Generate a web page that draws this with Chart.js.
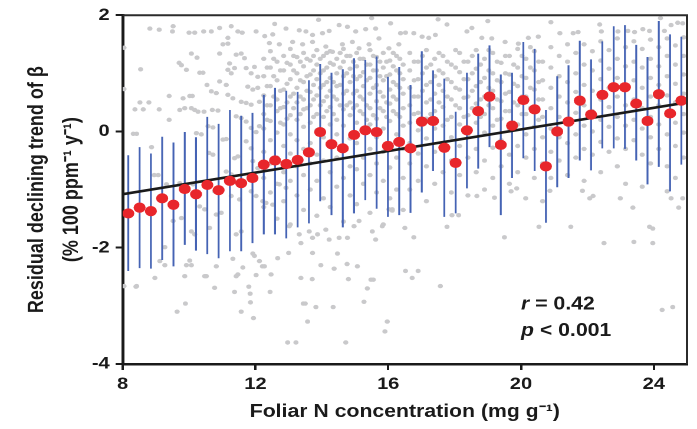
<!DOCTYPE html>
<html><head><meta charset="utf-8">
<script src="https://cdn.jsdelivr.net/npm/chart.js@4.4.1/dist/chart.umd.min.js"></script>
<style>
html,body{margin:0;padding:0;background:#fff;overflow:hidden}
#wrap{width:697px;height:429px;overflow:hidden;position:relative;background:#fff}
#c{position:absolute;left:0;top:0;transform:scaleX(1.1794);transform-origin:0 0}
</style></head><body>
<div id="wrap"><canvas id="c" width="591" height="429"></canvas></div>
<script>
// ---- data ----
const xTicks = [8, 12, 16, 20, 24];
const yTicks = [-4, -2, 0, 2];
const xTitle = 'Foliar N concentration (mg g\u207B\u00B9)';
const yTitle = ['Residual declining trend of \u03B2', '(% 100 ppm\u207B\u00B9 y\u207B\u00B9)'];
const statLines = [['r', ' = 0.42'], ['p', ' < 0.001']];
const statX = 20.0;
const statY = [-2.98, -3.43];

const binX = [8.17, 8.51, 8.85, 9.19, 9.53, 9.87, 10.21, 10.55, 10.89, 11.23, 11.57, 11.91, 12.25, 12.59, 12.93, 13.27, 13.61, 13.95, 14.29, 14.63, 14.97, 15.31, 15.65, 15.99, 16.33, 16.67, 17.01, 17.35, 17.69, 18.03, 18.37, 18.71, 19.05, 19.39, 19.73, 20.07, 20.41, 20.75, 21.09, 21.43, 21.77, 22.11, 22.45, 22.79, 23.13, 23.47, 23.81, 24.15, 24.49, 24.83];
const binMean = [-1.41, -1.31, -1.37, -1.15, -1.26, -0.99, -1.08, -0.92, -1.01, -0.85, -0.89, -0.80, -0.57, -0.50, -0.56, -0.49, -0.36, -0.01, -0.22, -0.29, -0.06, 0.02, -0.01, -0.25, -0.18, -0.29, 0.17, 0.18, -0.28, -0.54, 0.02, 0.35, 0.60, -0.23, 0.10, 0.54, 0.38, -0.60, 0.00, 0.17, 0.53, 0.29, 0.63, 0.76, 0.76, 0.48, 0.18, 0.64, 0.31, 0.53];
const binHigh = [-0.41, -0.27, -0.38, -0.09, -0.19, -0.01, -0.10, 0.25, 0.13, 0.37, 0.27, 0.32, 0.63, 0.75, 0.70, 0.68, 0.88, 1.16, 1.01, 1.07, 1.26, 1.23, 1.29, 0.94, 1.11, 0.80, 1.38, 1.05, 0.91, 0.34, 1.01, 1.34, 1.48, 0.98, 1.01, 1.54, 1.42, 0.37, 0.95, 1.14, 1.56, 1.24, 1.55, 1.81, 1.83, 1.49, 1.28, 1.90, 1.67, 1.63];
const binLow = [-2.40, -2.35, -2.36, -2.21, -2.32, -1.95, -2.05, -2.11, -2.18, -2.06, -2.06, -1.92, -1.77, -1.77, -1.84, -1.65, -1.58, -1.20, -1.44, -1.65, -1.41, -1.18, -1.33, -1.47, -1.44, -1.40, -1.05, -0.68, -1.47, -1.41, -0.98, -0.64, -0.27, -1.44, -0.80, -0.46, -0.68, -1.57, -0.96, -0.80, -0.50, -0.67, -0.29, -0.29, -0.30, -0.50, -0.91, -0.61, -1.03, -0.57];

const fitX = [8, 25];
const fitY = [-1.08, 0.50];

const grayPairs = [
[8.82,1.77],[9.10,1.75],[9.52,1.81],[9.5,1.72],[10.0,1.70],[10.17,1.70],[10.44,1.72],[10.67,1.72],[10.92,1.78],[11.17,1.61],[11.27,1.81],[11.47,1.72],[11.6,1.70],[12.02,1.72],
[8.04,1.44],[8.04,0.73],[8.54,1.07],[8.37,0.38],[8.62,0.38],[9.1,0.38],[8.52,0.5],[8.79,0.5],[8.32,-0.04],[8.42,-0.04],[8.87,-0.27],[8.95,-0.75],[9.07,-0.75],[9.4,0.61],[9.4,0.2],[9.7,1.18],[9.77,1.14],[9.82,0.57],[9.92,1.06],[10.02,0.61],[10.1,0.61],[9.72,0.37],[9.87,0.4],[10.07,1.34],[10.24,1.27],[10.32,1.01],[10.42,1.01],[10.54,0.8],[10.67,0.69],[10.82,0.66],[10.92,1.34],[11.02,1.5],[11.17,1.51],[10.07,0.4],[10.17,0.37],[10.27,0.34],[10.45,0.34],[10.7,0.37],[10.87,0.36],[10.57,0.09],[10.72,0.07],[10.22,-0.03],[10.37,-0.05],[10.6,-0.37],[10.72,-0.4],[11.02,-0.14],[11.12,-0.13],[11.37,-0.46],[11.47,-0.43],[11.22,1.17],[11.37,1.09],[11.27,1.0],[11.17,1.06],[11.42,1.32],[11.57,1.34],[11.67,1.26],[11.72,1.09],[11.87,1.0],[11.97,1.11],[12.07,0.94],[11.77,0.77],[11.92,0.72],[12.07,0.75],[11.12,0.8],[10.92,0.86],[11.17,0.63],[11.32,0.57],[11.57,0.51],[11.72,0.49],[11.87,0.46],[12.12,0.51],[11.42,0.26],[11.57,0.23],[11.72,0.17],[11.87,0.06],[12.02,-0.01],[12.12,0.09],[11.72,-0.17],[11.87,-0.29],[11.92,-0.51],[12.07,-0.63],[11.12,-0.69],[11.27,-0.74],[10.92,-0.97],[10.77,-1.03],[10.32,-1.29],[10.47,-1.34],[10.07,-1.72],[10.17,-1.77],[10.62,-1.66],[9.77,-1.49],[9.52,-1.54],[9.27,-1.99],[11.42,-1.77],[11.57,-1.72],[11.97,-2.14],[12.12,-2.23],[11.62,-2.34],[11.47,-2.46],[10.82,-2.32],[10.52,-2.49],[9.87,-2.49],[8.97,-2.52],[8.04,-2.66],[8.42,-2.66],
[8.40,-2.67],[9.12,-2.23],[9.27,-2.3],[9.64,-3.1],[9.89,-2.96],[9.92,-2.3],[10.07,-2.3],[10.02,-2.22],[10.47,-2.49],[10.77,-2.69],[11.32,-2.19],[11.37,-2.76],[11.42,-2.49],[11.57,-3.1],[11.80,-2.67],[11.84,-2.79],[11.85,-2.94],[11.92,-2.1],[11.94,-3.21],[12.02,-2.47],[12.21,-2.32],[12.27,-2.32],[12.44,-2.76],[12.47,-2.46],[12.67,-2.18],[12.97,-3.63],[13.00,-2.09],[13.22,-3.63],[13.37,-2.52],[13.44,-2.96],[13.50,-2.96],[13.57,-3.27],[13.71,-2.54],[13.72,-2.09],[13.82,-3.02],[13.97,-2.30],[14.34,-3.02],[14.37,-2.36],[14.47,-2.1],[14.72,-3.63],[14.76,-2.28],[14.80,-2.54],[15.07,-2.32],[15.27,-2.93],[15.37,-2.70],[15.48,-2.55],[15.55,-2.55],[15.90,-3.44],[15.97,-3.27],
[9.32,-0.91],[9.72,-0.89],[10.12,-0.91],[10.82,-1.43],[10.97,-1.40],[11.27,-1.11],[11.52,-1.17],[11.87,-1.03],[12.02,-1.11],[12.22,-1.2],[12.32,-1.23],[12.52,-1.26],[12.72,-0.91],[12.92,-0.97],[13.02,-1.63],[13.32,-1.77],[13.37,-1.92],[13.62,-1.72],[13.72,-1.83],[13.87,-1.77],[14.12,-1.69],[14.22,-1.86],[14.52,-1.83],[14.77,-1.83],[14.97,-1.63],[15.12,-1.54],[15.52,-1.72],[15.62,-1.86],[15.82,-1.63],[16.02,-1.34],[16.12,-1.34],
[16.5,-1.66],[16.77,-1.82],[16.12,-1.36],[16.52,-2.4],[16.9,-2.4],[16.72,-2.52],[17.57,-2.66],[17.77,-1.64],[17.92,-1.44],[18.12,-1.44],[18.67,-1.11],[19.2,-1.14],[19.5,-1.82],[19.7,-1.03],[19.87,-0.98],[20.14,-1.15],[20.54,-1.64],[20.87,-1.02],[21.5,-1.64],[21.85,-1.02],[22.07,-1.15],[22.17,-1.11],[22.5,-1.92],[22.99,-1.15],[23.37,-1.31],[23.4,-1.9],[23.87,-1.64],[23.97,-1.67],[23.97,-1.92],[24.25,-3.07],[24.57,-3.02],[24.4,-1.03],[24.52,-1.15],[24.75,-1.31],[24.87,-1.15],
[12.58,1.85],[12.92,1.77],[13.32,1.74],[13.52,1.72],[13.72,1.66],[14.02,1.69],[14.22,1.73],[14.52,1.83],[14.77,1.8],[15.02,1.72],[15.32,1.76],[15.62,1.77],[16.07,1.86],[16.37,1.69],
[12.28,1.64],[12.52,1.67],[12.42,1.52],[12.72,1.5],[13.12,1.54],[13.42,1.5],[13.72,1.54],[14.12,1.46],[14.32,1.37],[14.62,1.5],[14.92,1.54],[15.12,1.43],[15.42,1.5],[15.72,1.6],[16.02,1.43],[16.32,1.5],
[16.52,1.7],[16.77,1.69],[17.02,1.63],[17.22,1.61],[17.42,1.66],[17.77,1.84],[18.37,1.72],[18.52,1.78],[18.82,1.61],[19.12,1.6],[19.52,1.54],[19.92,1.51],[20.22,1.61],[20.52,1.63],
[22.37,1.84],[22.42,1.72],[21.72,1.71],[21.57,1.69],[21.17,1.69],[22.92,1.72],[23.22,1.73],[23.42,1.71],[23.67,1.76],[23.87,1.73],[24.32,1.73],[24.52,1.83],[24.72,1.87],[24.87,1.86],
[13.9,1.92],[15.5,1.95],[17.5,1.93],[19.0,1.9],[20.9,1.88],[24.2,1.95]
];

const grayColX = [12.25, 12.35, 12.45, 12.55, 12.65, 12.75, 12.85, 12.95, 13.05, 13.15, 13.25, 13.35, 13.45, 13.55, 13.65, 13.75, 13.85, 13.95, 14.05, 14.15, 14.25, 14.35, 14.45, 14.55, 14.65, 14.75, 14.85, 14.95, 15.05, 15.15, 15.25, 15.35, 15.45, 15.55, 15.65, 15.75, 15.85, 15.95, 16.05, 16.15, 16.25, 16.35, 16.45,
 16.65, 16.78, 16.9, 17.03, 17.15, 17.28, 17.4, 17.53, 17.65, 17.78, 17.9, 18.03, 18.15, 18.28, 18.4, 18.53, 18.65, 18.78, 18.9, 19.03, 19.15, 19.28, 19.4, 19.53, 19.65, 19.78, 19.9, 20.03, 20.15, 20.28, 20.4, 20.53, 20.65,
 20.9, 21.15, 21.4, 21.65, 21.9, 22.15, 22.4, 22.65, 22.9, 23.15, 23.4, 23.65, 23.9, 24.15, 24.4, 24.65, 24.9];
const grayColY = [
 [1.25, 0.95, 0.62, 0.3, 0.05, -0.35, -0.8, -1.3],
 [1.1, 0.78, 0.45, 0.2],
 [1.38, 1.1, 0.78, 0.45, 0.18, -0.15, -0.55, -1.05],
 [0.95, 0.6, 1.25],
 [1.2, 0.88, 0.55, 0.35, -0.02, -0.45, -0.9, -1.5],
 [1.05, 0.7, 0.4, 0.15],
 [1.3, 1.05, 0.72, 0.42, 0.12, -0.25, -0.7, -1.2],
 [1.18, 0.82, 0.5, 0.22],
 [1.42, 1.15, 0.9, 0.6, 0.28, -0.05, -0.38, -0.85, -1.6],
 [0.65, 1.05, 1.3, 0.4],
 [1.28, 1.0, 0.75, 0.5, 0.2, -0.15, -0.6, -1.1],
 [1.2, 0.88, 0.6, 0.3],
 [1.35, 1.12, 0.85, 0.55, 0.38, 0.08, -0.3, -0.75, -1.35],
 [0.95, 0.4, 1.25, 0.7],
 [1.22, 0.98, 0.68, 0.45, 0.15, -0.2, -0.55, -1.0],
 [1.3, 1.05, 0.55, 0.25, 0.8],
 [1.4, 1.15, 0.9, 0.62, 0.3, 0.02, -0.4, -0.85, -1.45],
 [0.75, 1.25, 0.45, 1.0],
 [1.3, 1.05, 0.8, 0.52, 0.25, -0.1, -0.5, -1.15],
 [0.6, 1.1, 1.35, 0.35, 0.85],
 [1.38, 1.18, 0.92, 0.7, 0.42, 0.12, -0.25, -0.7, -1.3],
 [0.85, 0.3, 1.15, 0.6],
 [1.25, 1.0, 0.78, 0.55, 0.2, -0.05, -0.45, -0.95],
 [1.1, 0.45, 0.8, 1.35],
 [1.42, 1.2, 0.95, 0.65, 0.38, 0.1, -0.3, -0.8, -1.55],
 [0.7, 1.3, 1.0, 0.45],
 [1.3, 1.08, 0.85, 0.5, 0.28, -0.12, -0.6, -1.1],
 [0.95, 0.4, 0.65, 1.2],
 [1.35, 1.12, 0.9, 0.7, 0.45, 0.15, -0.2, -0.65, -1.25],
 [0.6, 1.25, 0.95, 0.35],
 [1.25, 1.02, 0.78, 0.55, 0.3, 0.0, -0.45, -0.9],
 [0.88, 0.45, 1.15, 0.2],
 [1.4, 1.15, 0.92, 0.65, 0.4, 0.12, -0.3, -0.75, -1.4],
 [1.05, 0.28, 0.75, 1.3],
 [1.28, 1.05, 0.8, 0.52, 0.22, -0.1, -0.55, -1.05],
 [0.68, 1.2, 0.95, 0.4],
 [1.35, 1.1, 0.88, 0.6, 0.35, 0.05, -0.35, -0.85, -1.6],
 [0.95, 0.5, 1.2, 0.25],
 [1.22, 0.98, 0.72, 0.48, 0.18, -0.2, -0.62, -1.15],
 [0.6, 1.12, 0.85, 1.35, 0.35],
 [1.3, 1.05, 0.8, 0.55, 0.3, -0.05, -0.45, -1.0],
 [0.75, 0.25, 1.0, 1.25],
 [1.15, 0.9, 0.65, 0.4, 0.1, -0.3, -0.8, -1.35],
 [1.35, 1.05, 0.75, 0.45, 0.15, -0.2, -0.55, -1.0],
 [1.2, 0.88, 0.6, 0.3],
 [1.2, 0.9, 0.6, 0.32, 0.02, -0.38, -0.85],
 [1.3, 1.0, 0.7, 0.15],
 [1.4, 1.1, 0.8, 0.5, 0.22, -0.12, -0.6, -1.2],
 [1.15, 0.85, 0.55, 0.3],
 [1.25, 0.95, 0.65, 0.35, 0.05, -0.35, -0.9],
 [1.35, 1.05, 0.8, 0.5],
 [1.3, 1.0, 0.7, 0.42, 0.1, -0.25, -0.7],
 [1.2, 0.9, 0.6, 0.2],
 [1.15, 0.85, 0.55, 0.25, -0.1, -0.5, -1.05],
 [1.4, 1.1, 0.75, 0.45],
 [1.35, 1.02, 0.72, 0.4, 0.12, -0.25, -0.75],
 [1.2, 0.9, 0.58, 0.25],
 [1.2, 0.9, 0.6, 0.28, -0.05, -0.45, -1.1],
 [1.3, 1.0, 0.7, 0.4],
 [1.4, 1.08, 0.78, 0.48, 0.15, -0.3, -0.7],
 [1.15, 0.85, 0.55, 0.25],
 [1.25, 0.92, 0.6, 0.3, -0.02, -0.5, -1.0],
 [1.4, 1.05, 0.75, 0.45],
 [1.35, 1.0, 0.7, 0.4, 0.1, -0.28, -0.8],
 [1.2, 0.88, 0.55, 0.2],
 [1.18, 0.85, 0.52, 0.22, -0.15, -0.6],
 [1.3, 1.0, 0.65, 0.35],
 [1.3, 0.98, 0.68, 0.35, 0.05, -0.4, -0.9],
 [1.15, 0.82, 0.5, 0.15],
 [1.42, 1.1, 0.78, 0.45, 0.12, -0.25, -0.7],
 [1.3, 0.95, 0.6, 0.3],
 [1.25, 0.92, 0.6, 0.3, -0.05, -0.45],
 [1.45, 1.1, 0.75, 0.4],
 [1.38, 1.05, 0.72, 0.4, 0.08, -0.3, -0.8],
 [1.2, 0.85, 0.55, 0.2],
 [1.2, 0.88, 0.55, 0.25, -0.1, -0.55, -1.2],
 [1.45, 1.1, 0.75, 0.4, 0.05, -0.35, -0.8],
 [1.3, 0.95, 0.6, 0.25, -0.1, -0.5],
 [1.5, 1.2, 0.85, 0.5, 0.15, -0.2, -0.75],
 [1.35, 1.0, 0.68, 0.32, -0.05, -0.45],
 [1.5, 1.15, 0.8, 0.45, 0.1, -0.3, -0.85],
 [1.38, 1.05, 0.7, 0.35, 0.0, -0.4],
 [1.55, 1.22, 0.9, 0.55, 0.2, -0.18, -0.7],
 [1.4, 1.08, 0.75, 0.42, 0.08, -0.35],
 [1.6, 1.25, 0.92, 0.6, 0.25, -0.12, -0.6],
 [1.45, 1.12, 0.78, 0.45, 0.1, -0.3, -0.9],
 [1.55, 1.2, 0.88, 0.55, 0.2, -0.15],
 [1.42, 1.1, 0.75, 0.4, 0.05, -0.4, -0.95],
 [1.58, 1.25, 0.92, 0.6, 0.25, -0.1, -0.55],
 [1.45, 1.12, 0.8, 0.45, 0.12, -0.3],
 [1.6, 1.3, 0.95, 0.62, 0.28, -0.05, -0.6],
 [1.48, 1.15, 0.82, 0.5, 0.15, -0.25, -0.8],
 [1.62, 1.3, 0.98, 0.65, 0.3, -0.02, -0.45]
];

// ---- build datasets from the arrays ----
const FONT = "'Liberation Sans', Arial, Helvetica, sans-serif";
const INK = '#1a1a1a';
const grayData = grayPairs.map(p => ({x: p[0], y: p[1]}));
grayColX.forEach((x, i) => grayColY[i].forEach(y => grayData.push({x: x, y: y})));
const barData = [];
binX.forEach((x, i) => { barData.push({x: x, y: binLow[i]}, {x: x, y: binHigh[i]}, {x: x, y: null}); });
const meanData = binX.map((x, i) => ({x: x, y: binMean[i]}));
const fitData = fitX.map((x, i) => ({x: x, y: fitY[i]}));

const framePlugin = {
  id: 'frame',
  afterDatasetsDraw(chart) {
    const a = chart.chartArea, ctx = chart.ctx;
    ctx.save();
    ctx.strokeStyle = '#2b2b2b';
    ctx.lineWidth = 2;
    ctx.beginPath();
    ctx.moveTo(a.left, a.top);
    ctx.lineTo(a.right, a.top);
    ctx.lineTo(a.right, a.bottom);
    ctx.stroke();
    ctx.restore();
  }
};
const statPlugin = {
  id: 'stats',
  afterDatasetsDraw(chart) {
    const ctx = chart.ctx, sx = chart.scales.x, sy = chart.scales.y;
    ctx.save();
    ctx.fillStyle = INK;
    ctx.textAlign = 'left';
    ctx.textBaseline = 'middle';
    statLines.forEach((ln, i) => {
      let px = sx.getPixelForValue(statX);
      const py = sy.getPixelForValue(statY[i]);
      ctx.font = 'italic bold 18px ' + FONT;
      ctx.fillText(ln[0], px, py);
      px += ctx.measureText(ln[0]).width;
      ctx.font = 'bold 18px ' + FONT;
      ctx.fillText(ln[1], px, py);
    });
    ctx.restore();
  }
};

const axisCommon = {
  type: 'linear',
  grid: {drawOnChartArea: false, drawTicks: true, tickLength: 6, color: INK, lineWidth: 2},
  border: {display: true, color: INK, width: 2.5},
};

new Chart(document.getElementById('c'), {
  type: 'scatter',
  data: {datasets: [
    {label: 'sites', data: grayData, pointRadius: 2.2, pointBackgroundColor: '#c9c9cb', pointBorderWidth: 0, order: 4},
    {label: 'range', data: barData, showLine: true, spanGaps: false, borderColor: '#4563b4', borderWidth: 1.6, pointRadius: 0, order: 3},
    {label: 'fit', data: fitData, showLine: true, borderColor: INK, borderWidth: 2.6, pointRadius: 0, order: 2},
    {label: 'mean', data: meanData, pointRadius: 5.1, pointBackgroundColor: '#e8262b', pointBorderWidth: 0, order: 1}
  ]},
  options: {
    responsive: false, animation: false, devicePixelRatio: 2, events: [],
    layout: {padding: {top: 14, right: 8.5, left: 0, bottom: 0}},
    plugins: {legend: {display: false}, tooltip: {enabled: false}},
    scales: {
      x: Object.assign({}, axisCommon, {
        min: 8, max: 25,
        afterBuildTicks: s => { s.ticks = xTicks.map(v => ({value: v})); },
        afterFit: s => { s.height = 65; },
        ticks: {color: INK, font: {family: FONT, size: 17, weight: 'bold'}, padding: 4, maxRotation: 0},
        title: {display: true, text: xTitle, color: INK, font: {family: FONT, size: 18, weight: 'bold'}, padding: {top: 0, bottom: 6}}
      }),
      y: Object.assign({}, axisCommon, {
        min: -4, max: 2,
        afterBuildTicks: s => { s.ticks = yTicks.map(v => ({value: v})); },
        afterFit: s => { s.width = 104; },
        ticks: {color: INK, font: {family: FONT, size: 17, weight: 'bold'}, padding: 5},
        title: {display: true, text: yTitle, color: INK, font: {family: FONT, size: 18, weight: 'bold', lineHeight: 1.65}, padding: {top: 16.5, bottom: 0}}
      })
    }
  },
  plugins: [framePlugin, statPlugin]
});
</script>
</body></html>
